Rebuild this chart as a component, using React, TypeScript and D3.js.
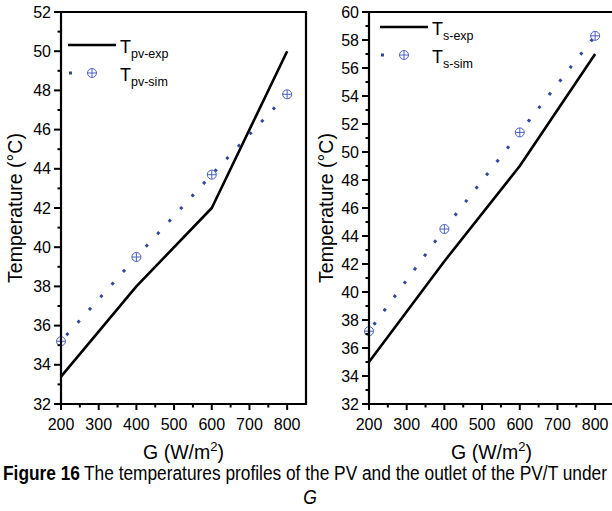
import React from "react";
import * as d3 from "d3";

const G_VALUES = [200, 400, 600, 800];
const TPV_EXP = [33.4, 38.0, 42.0, 50.0];
const TPV_SIM = [35.2, 39.5, 43.7, 47.8];
const TS_EXP = [35.0, 42.2, 49.0, 57.0];
const TS_SIM = [37.2, 44.5, 51.4, 58.3];
const X_TICKS = [200, 300, 400, 500, 600, 700, 800];
const LEFT_Y_TICKS = [32, 34, 36, 38, 40, 42, 44, 46, 48, 50, 52];
const RIGHT_Y_TICKS = [32, 34, 36, 38, 40, 42, 44, 46, 48, 50, 52, 54, 56, 58, 60];
const CAPTION_BOLD = "Figure 16";
const CAPTION_TEXT = "The temperatures profiles of the PV and the outlet of the PV/T under";
const CAPTION_LINE2 = "G";

const FONT = "'Liberation Sans', Arial, sans-serif";
const BLUE = "#30499e";
const MARK = "#4a62c4";

type PanelProps = {
  x0: number;
  x1: number;
  yDomain: [number, number];
  yTicks: number[];
  exp: number[];
  sim: number[];
  sub1: string;
  sub2: string;
  legendX: number;
  legendY: number;
  ylabelX: number;
};

const TOP = 12;
const BOTTOM = 404;

function Marker({ cx, cy }: { cx: number; cy: number }) {
  const r = 4.5;
  return (
    <g stroke={MARK} strokeWidth={1} fill="white">
      <circle cx={cx} cy={cy} r={r} />
      <line x1={cx - r} x2={cx + r} y1={cy} y2={cy} />
      <line x1={cx} x2={cx} y1={cy - r} y2={cy + r} />
    </g>
  );
}

function Panel(p: PanelProps) {
  const x = d3.scaleLinear().domain([200, 850]).range([p.x0, p.x1]);
  const y = d3.scaleLinear().domain(p.yDomain).range([BOTTOM, TOP]);
  const line = d3
    .line<number>()
    .x((_, i) => x(G_VALUES[i]))
    .y((d) => y(d));
  const minorX = d3.range(250, 850, 100);
  const minorY = d3.range(p.yDomain[0] + 1, p.yDomain[1], 2);
  const cx = (p.x0 + p.x1) / 2;
  const cy = (TOP + BOTTOM) / 2;
  return (
    <g>
      <path d={line(p.exp) || ""} fill="none" stroke="black" strokeWidth={2.6} strokeLinejoin="round" />
      <path
        d={line(p.sim) || ""}
        fill="none"
        stroke={BLUE}
        strokeWidth={3}
        strokeDasharray="3 14"
        strokeDashoffset={-8}
      />
      {p.sim.map((v, i) => (
        <Marker key={i} cx={x(G_VALUES[i])} cy={y(v)} />
      ))}
      <path
        d={`M${p.x0},${BOTTOM}V${TOP}H${p.x1}V${BOTTOM}H${p.x0}`}
        fill="none"
        stroke="black"
        strokeWidth={2.2}
      />
      {X_TICKS.map((t) => (
        <g key={t}>
          <line x1={x(t)} x2={x(t)} y1={BOTTOM} y2={BOTTOM + 6} stroke="black" strokeWidth={2} />
          <text x={x(t)} y={BOTTOM + 26} textAnchor="middle" fontFamily={FONT} fontSize={16}>
            {t}
          </text>
        </g>
      ))}
      {minorX.map((t) => (
        <line key={t} x1={x(t)} x2={x(t)} y1={BOTTOM} y2={BOTTOM + 3.5} stroke="black" strokeWidth={2} />
      ))}
      {p.yTicks.map((t) => (
        <g key={t}>
          <line x1={p.x0 - 7} x2={p.x0} y1={y(t)} y2={y(t)} stroke="black" strokeWidth={2} />
          <text x={p.x0 - 10} y={y(t) + 5.5} textAnchor="end" fontFamily={FONT} fontSize={16}>
            {t}
          </text>
        </g>
      ))}
      {minorY.map((t) => (
        <line key={t} x1={p.x0 - 3.5} x2={p.x0} y1={y(t)} y2={y(t)} stroke="black" strokeWidth={2} />
      ))}
      <text
        transform={`translate(${p.ylabelX},${cy}) rotate(-90)`}
        textAnchor="middle"
        fontFamily={FONT}
        fontSize={19.5}
      >
        Temperature (°C)
      </text>
      <text x={cx} y={459} textAnchor="middle" fontFamily={FONT} fontSize={19.5}>
        G (W/m
        <tspan fontSize={13} dy={-8}>
          2
        </tspan>
        <tspan dy={8}>)</tspan>
      </text>
      <line
        x1={p.legendX}
        x2={p.legendX + 48}
        y1={p.legendY}
        y2={p.legendY}
        stroke="black"
        strokeWidth={2.6}
      />
      <text x={p.legendX + 52} y={p.legendY + 7.5} fontFamily={FONT} fontSize={18}>
        T
        <tspan fontSize={12.5} dy={5}>
          {p.sub1}
        </tspan>
      </text>
      <line
        x1={p.legendX + 1}
        x2={p.legendX + 31}
        y1={p.legendY + 28}
        y2={p.legendY + 28}
        stroke={BLUE}
        strokeWidth={3}
        strokeDasharray="3 27"
      />
      <Marker cx={p.legendX + 24} cy={p.legendY + 28} />
      <text x={p.legendX + 52} y={p.legendY + 35.5} fontFamily={FONT} fontSize={18}>
        T
        <tspan fontSize={12.5} dy={5}>
          {p.sub2}
        </tspan>
      </text>
    </g>
  );
}

export default function App() {
  return (
    <svg
      width={612}
      height={511}
      style={{ position: "absolute", left: 0, top: 0, background: "white" }}
    >
      <rect width={612} height={511} fill="white" />
      <Panel
        x0={61}
        x1={306}
        yDomain={[32, 52]}
        yTicks={LEFT_Y_TICKS}
        exp={TPV_EXP}
        sim={TPV_SIM}
        sub1="pv-exp"
        sub2="pv-sim"
        legendX={68}
        legendY={45}
        ylabelX={22}
      />
      <Panel
        x0={369}
        x1={614}
        yDomain={[32, 60]}
        yTicks={RIGHT_Y_TICKS}
        exp={TS_EXP}
        sim={TS_SIM}
        sub1="s-exp"
        sub2="s-sim"
        legendX={380}
        legendY={27}
        ylabelX={333}
      />
      <text
        x={3}
        y={480}
        fontFamily={FONT}
        fontSize={19.5}
        fontWeight="bold"
        textLength={77}
        lengthAdjust="spacingAndGlyphs"
      >
        {CAPTION_BOLD}
      </text>
      <text
        x={84}
        y={480}
        fontFamily={FONT}
        fontSize={19.5}
        textLength={523}
        lengthAdjust="spacingAndGlyphs"
      >
        {CAPTION_TEXT}
      </text>
      <text
        transform="translate(310,504) scale(0.9,1)"
        textAnchor="middle"
        fontFamily={FONT}
        fontSize={19.5}
        fontStyle="italic"
      >
        {CAPTION_LINE2}
      </text>
    </svg>
  );
}
